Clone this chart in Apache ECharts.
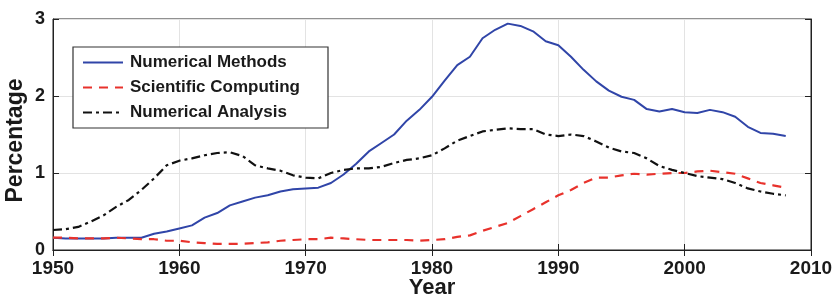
<!DOCTYPE html>
<html>
<head>
<meta charset="utf-8">
<script src="https://cdn.jsdelivr.net/npm/echarts@6/dist/echarts.min.js"></script>
<style>html,body{margin:0;padding:0;background:#fff}#c{width:838px;height:300px}</style>
</head>
<body>
<div id="c"></div>
<script>
const years = [];
for (let y = 1950; y <= 2008; y++) years.push(y);

const numericalMethods = [
  0.16,0.15,0.15,0.15,0.15,0.16,0.16,0.16,0.21,0.24,
  0.28,0.32,0.42,0.48,0.58,0.63,0.68,0.71,0.76,0.79,
  0.80,0.81,0.87,0.98,1.12,1.28,1.39,1.50,1.68,1.82,
  1.99,2.20,2.40,2.51,2.75,2.86,2.94,2.91,2.84,2.71,
  2.66,2.51,2.34,2.19,2.07,1.99,1.95,1.83,1.80,1.83,
  1.79,1.78,1.82,1.79,1.73,1.60,1.52,1.51,1.48
];
const scientificComputing = [
  0.16,0.16,0.15,0.15,0.15,0.16,0.15,0.14,0.14,0.12,
  0.12,0.10,0.09,0.08,0.08,0.08,0.09,0.10,0.12,0.13,
  0.14,0.14,0.16,0.15,0.14,0.13,0.13,0.13,0.13,0.12,
  0.13,0.14,0.17,0.19,0.25,0.30,0.35,0.44,0.53,0.62,
  0.71,0.78,0.87,0.94,0.94,0.97,0.99,0.98,0.99,1.00,
  1.00,1.02,1.03,1.01,0.99,0.93,0.87,0.84,0.81
];
const numericalAnalysis = [
  0.26,0.27,0.30,0.37,0.45,0.56,0.65,0.78,0.93,1.10,
  1.16,1.19,1.23,1.26,1.27,1.22,1.10,1.06,1.03,0.97,
  0.94,0.93,1.00,1.04,1.06,1.06,1.08,1.13,1.17,1.19,
  1.23,1.32,1.42,1.48,1.54,1.56,1.58,1.57,1.57,1.50,
  1.48,1.50,1.48,1.41,1.33,1.28,1.26,1.19,1.09,1.04,
  1.00,0.96,0.94,0.92,0.87,0.80,0.76,0.73,0.71
];
const xTicks = [1950,1960,1970,1980,1990,2000,2010];
const yTicks = [0,1,2,3];
const seriesNames = ['Numerical Methods','Scientific Computing','Numerical Analysis'];

const FONT = '"Liberation Sans", Arial, Helvetica, sans-serif';
const chart = echarts.init(document.getElementById('c'), null, {renderer:'canvas'});

function pairs(vals){ return years.map((y,i)=>[y, vals[i]]); }

const axisLabelX = {fontFamily:FONT, fontWeight:'bold', fontSize:19, color:'#1a1a1a', margin:9};
const axisLabelY = {fontFamily:FONT, fontWeight:'bold', fontSize:18, color:'#1a1a1a', margin:8};

chart.setOption({
  animation:false,
  backgroundColor:'#fff',
  grid:{left:53, right:27, top:19, bottom:50, show:true, borderColor:'#222', borderWidth:1, backgroundColor:'transparent', containLabel:false, outerBoundsMode:'none'},
  legend:{
    orient:'vertical', left:73, top:47,
    data:seriesNames,
    backgroundColor:'#fff', borderColor:'#333', borderWidth:1.2,
    padding:[7,28,7,9], itemGap:8, itemWidth:40, itemHeight:12,
    itemStyle:{opacity:0},
    textStyle:{fontFamily:FONT, fontWeight:'bold', fontSize:17, color:'#1a1a1a', padding:[0,0,0,2]}
  },
  xAxis:[{
    type:'value', min:1950, max:2010, interval:10,
    axisLine:{show:true, lineStyle:{color:'#222'}},
    axisTick:{show:true, inside:true, length:6, lineStyle:{color:'#222'}},
    axisLabel:Object.assign({formatter:v=>xTicks.includes(v)?String(v):''}, axisLabelX),
    splitLine:{show:true, lineStyle:{color:'#e3e3e3', width:1}},
    name:'Year', nameLocation:'middle', nameGap:27, nameMoveOverlap:false,
    nameTextStyle:{fontFamily:FONT, fontWeight:'bold', fontSize:22, color:'#1a1a1a'}
  },{
    type:'value', position:'top', min:1950, max:2010, interval:10,
    axisLine:{show:true, lineStyle:{color:'#222'}},
    axisTick:{show:true, inside:true, length:6, lineStyle:{color:'#222'}},
    axisLabel:{show:false}, splitLine:{show:false}
  }],
  yAxis:[{
    type:'value', min:0, max:3, interval:1,
    axisLine:{show:true, lineStyle:{color:'#222'}},
    axisTick:{show:true, inside:true, length:6, lineStyle:{color:'#222'}},
    axisLabel:Object.assign({formatter:v=>yTicks.includes(v)?String(v):''}, axisLabelY),
    splitLine:{show:true, lineStyle:{color:'#e3e3e3', width:1}},
    name:'Percentage', nameLocation:'middle', nameGap:26, nameRotate:90, nameMoveOverlap:false,
    nameTextStyle:{fontFamily:FONT, fontWeight:'bold', fontSize:23, color:'#1a1a1a', padding:[0,12,0,0]}
  },{
    type:'value', position:'right', min:0, max:3, interval:1,
    axisLine:{show:true, lineStyle:{color:'#222'}},
    axisTick:{show:true, inside:true, length:6, lineStyle:{color:'#222'}},
    axisLabel:{show:false}, splitLine:{show:false}
  }],
  series:[
    {name:seriesNames[0], type:'line', data:pairs(numericalMethods), showSymbol:false, symbol:'none', smooth:false,
     lineStyle:{color:'#3045a8', width:2}, itemStyle:{color:'#3045a8'}},
    {name:seriesNames[1], type:'line', data:pairs(scientificComputing), showSymbol:false, symbol:'none',
     lineStyle:{color:'#e8322c', width:2.2, type:[9,7]}, itemStyle:{color:'#e8322c'}},
    {name:seriesNames[2], type:'line', data:pairs(numericalAnalysis), showSymbol:false, symbol:'none',
     lineStyle:{color:'#111', width:2.2, type:[9,4,3,4]}, itemStyle:{color:'#111'}}
  ]
});
</script>
</body>
</html>
